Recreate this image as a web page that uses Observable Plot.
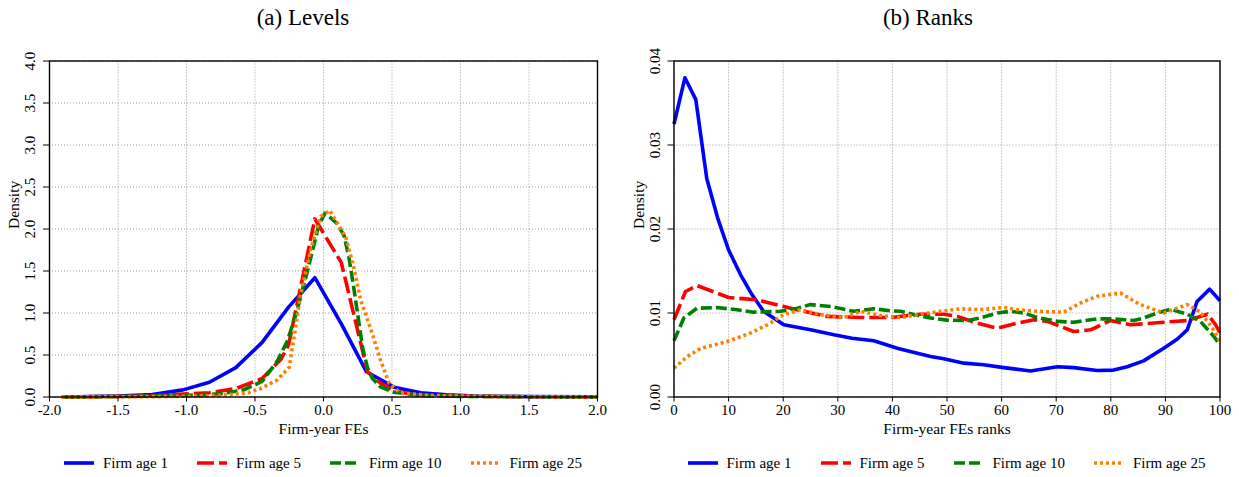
<!DOCTYPE html>
<html><head><meta charset="utf-8">
<script src="https://cdn.jsdelivr.net/npm/d3@7"></script>
<script src="https://cdn.jsdelivr.net/npm/@observablehq/plot@0.6"></script>
<style>
body{margin:0;background:#fff;font-family:"Liberation Serif","DejaVu Serif","Times New Roman",Times,serif;}
#wrap{position:relative;width:1239px;height:477px;overflow:hidden;background:#fff;}
.title{position:absolute;top:4px;font-size:23px;line-height:28px;transform:translateX(-50%);white-space:nowrap;color:#000;}
.panel{position:absolute;top:30px;}
.legend{position:absolute;top:453px;display:flex;align-items:center;gap:29px;font-size:15px;line-height:20px;transform:translateX(-50%);white-space:nowrap;color:#000;}
.item{display:flex;align-items:center;gap:9px;}
.item svg{display:block;}
svg text{font-family:"Liberation Serif","DejaVu Serif","Times New Roman",Times,serif;}
</style></head>
<body><div id="wrap"></div>
<script>
// ---- series metadata ----
const seriesNames = ["Firm age 1", "Firm age 5", "Firm age 10", "Firm age 25"];
const seriesColors = ["#0000ff", "#ff0000", "#008000", "#ff8000"];
const seriesDash = [null, "17,5", "11,4", "3,3"];

// ---- (a) Levels ----
const lvlX1 = [-1.91, -1.5, -1.25, -1.025, -0.833, -0.64, -0.448, -0.255, -0.063, 0.13, 0.314, 0.515, 0.71, 0.9, 1.1, 1.5, 2.0];
const lvlY1 = [0.0, 0.01, 0.03, 0.085, 0.175, 0.35, 0.65, 1.07, 1.42, 0.87, 0.3, 0.117, 0.05, 0.025, 0.012, 0.004, 0.001];
const lvlX5 = [-1.91, -1.3, -1.025, -0.833, -0.64, -0.448, -0.31, -0.255, -0.063, 0.13, 0.322, 0.42, 0.515, 0.707, 1.0, 1.5, 2.0];
const lvlY5 = [0.0, 0.01, 0.035, 0.05, 0.1, 0.22, 0.45, 0.62, 2.12, 1.60, 0.3, 0.16, 0.07, 0.02, 0.01, 0.003, 0.0];
const lvlX10 = [-1.91, -1.3, -1.0, -0.75, -0.58, -0.445, -0.336, -0.263, -0.2, -0.117, -0.032, 0.012, 0.102, 0.15, 0.186, 0.22, 0.26, 0.285, 0.32, 0.357, 0.418, 0.515, 0.7, 1.0, 1.5, 2.0];
const lvlY10 = [0.0, 0.01, 0.02, 0.038, 0.085, 0.19, 0.43, 0.67, 0.99, 1.5, 2.06, 2.19, 2.06, 1.92, 1.66, 1.31, 0.87, 0.59, 0.355, 0.22, 0.117, 0.057, 0.02, 0.008, 0.003, 0.0];
const lvlX25 = [-1.91, -1.2, -0.95, -0.75, -0.55, -0.46, -0.34, -0.25, -0.215, -0.166, -0.093, -0.02, 0.046, 0.163, 0.22, 0.272, 0.357, 0.418, 0.48, 0.56, 0.75, 1.0, 1.5, 2.0];
const lvlY25 = [0.0, 0.005, 0.01, 0.02, 0.05, 0.1, 0.2, 0.355, 0.71, 1.23, 1.76, 2.15, 2.22, 1.9, 1.55, 1.15, 0.75, 0.43, 0.16, 0.05, 0.02, 0.01, 0.003, 0.0];
const lvlXTicks = [-2, -1.5, -1, -0.5, 0, 0.5, 1, 1.5, 2];
const lvlYTicks = [0, 0.5, 1, 1.5, 2, 2.5, 3, 3.5, 4];

// ---- (b) Ranks ----
const rnkX1 = [0, 2, 4, 6, 8, 10, 12.2, 14.3, 16.4, 20.1, 25, 29.3, 32.6, 36.6, 40.9, 42.7, 47, 49.4, 53.1, 56.7, 60.4, 65.3, 70.2, 73.2, 77.5, 80.5, 83, 86, 89.7, 92.2, 94, 95.8, 98.1, 100];
const rnkY1 = [0.0325, 0.0380, 0.0354, 0.0260, 0.0213, 0.0175, 0.01455, 0.01217, 0.0102, 0.0086, 0.0080, 0.0074, 0.0070, 0.00669, 0.00581, 0.0055, 0.00482, 0.00455, 0.00403, 0.00383, 0.0035, 0.0031, 0.0036, 0.0035, 0.00315, 0.0032, 0.0036, 0.0043, 0.0058, 0.0069, 0.0080, 0.01137, 0.01284, 0.01145];
const rnkX5 = [0, 2.1, 4.2, 10, 15.2, 20.1, 23.8, 28, 34.2, 39.7, 45.1, 49.4, 51.9, 55.5, 59.2, 62.9, 65.9, 68.4, 70.8, 73.2, 76.3, 79.9, 83.6, 89.7, 94, 97.7, 99.2, 100];
const rnkY5 = [0.0092, 0.01256, 0.01327, 0.01185, 0.01157, 0.01077, 0.0102, 0.0096, 0.00946, 0.00946, 0.00986, 0.00986, 0.0096, 0.0088, 0.0082, 0.0088, 0.0092, 0.0090, 0.0084, 0.0078, 0.0080, 0.0091, 0.0086, 0.0089, 0.0091, 0.00986, 0.0086, 0.0076];
const rnkX10 = [0, 1.8, 4.2, 7.9, 11.6, 14.6, 19.5, 22.6, 25, 28.7, 32.9, 36.6, 39.7, 41.5, 46.4, 50, 53.7, 56.1, 59.2, 61.6, 64.1, 66.5, 70.2, 73.2, 77.5, 80.5, 84.2, 86, 88.5, 90.9, 94, 96.4, 98.9, 100];
const rnkY10 = [0.0067, 0.0094, 0.01057, 0.01065, 0.01038, 0.0101, 0.0102, 0.01057, 0.0110, 0.01077, 0.0102, 0.0105, 0.01026, 0.0102, 0.00946, 0.00915, 0.0091, 0.0094, 0.0100, 0.0102, 0.0100, 0.00946, 0.0090, 0.0089, 0.0093, 0.0093, 0.0091, 0.0094, 0.0100, 0.01045, 0.00986, 0.0090, 0.0072, 0.0062];
const rnkX25 = [0, 2.4, 4.9, 9.7, 14, 17.1, 20.1, 23.2, 26.8, 31.1, 34.2, 37.8, 41.5, 45.1, 48.8, 52.5, 56.1, 60.4, 62.9, 66.5, 71.4, 74.5, 77.5, 81.8, 85.4, 89.7, 94, 96.4, 98.6, 100];
const rnkY25 = [0.00343, 0.0048, 0.0058, 0.0066, 0.0076, 0.0086, 0.0098, 0.0104, 0.0098, 0.00946, 0.0102, 0.0097, 0.00946, 0.00986, 0.0102, 0.0105, 0.0104, 0.01065, 0.0104, 0.0102, 0.0101, 0.0112, 0.0120, 0.01236, 0.0110, 0.0100, 0.0110, 0.0101, 0.0082, 0.0066];
const rnkXTicks = [0, 10, 20, 30, 40, 50, 60, 70, 80, 90, 100];
const rnkYTicks = [0, 0.01, 0.02, 0.03, 0.04];

const FONT = "Liberation Serif, DejaVu Serif, Times New Roman, serif";
const zip = (xs, ys) => xs.map((x, i) => ({x, y: ys[i]}));

function panel({series, xDomain, yDomain, xTicks, yTicks, xFmt, yFmt, xLabel, width, ml, mr}) {
  const grid = {stroke: "#9a9a9a", strokeOpacity: 1, strokeWidth: 1, strokeDasharray: "1,2"};
  const marks = [
    Plot.gridX(xTicks, grid),
    Plot.gridY(yTicks, grid)
  ];
  series.forEach((s, i) => {
    marks.push(Plot.line(s, {x: "x", y: "y", stroke: seriesColors[i], strokeWidth: 3.6,
      strokeDasharray: seriesDash[i] || undefined, strokeLinecap: "butt", strokeLinejoin: "round"}));
  });
  marks.push(Plot.frame({stroke: "#000", strokeWidth: 1.4}));
  marks.push(Plot.axisX(xTicks, {tickSize: 5, tickPadding: 2, tickFormat: xFmt, fontSize: 15, label: null, stroke: "#000", fontFamily: FONT}));
  marks.push(Plot.axisY(yTicks, {tickSize: 6, tickFormat: () => "", label: null, stroke: "#000"}));
  marks.push(Plot.text(yTicks, {y: d => d, frameAnchor: "left", rotate: -90, dx: -19, text: yFmt,
    fontSize: 15, lineAnchor: "middle", textAnchor: "middle", fill: "#000", fontFamily: FONT}));
  marks.push(Plot.text([xLabel], {frameAnchor: "bottom", dy: 32, text: d => d, fontSize: 15.5, lineAnchor: "middle", fill: "#000", fontFamily: FONT}));
  marks.push(Plot.text(["Density"], {frameAnchor: "left", rotate: -90, dx: -35, text: d => d, fontSize: 15.5, lineAnchor: "middle", fill: "#000", fontFamily: FONT}));
  return Plot.plot({
    width, height: 410, marginTop: 30.5, marginBottom: 43.5, marginLeft: ml, marginRight: mr,
    x: {domain: xDomain}, y: {domain: yDomain},
    style: {fontFamily: FONT, fontSize: "15px", background: "transparent", overflow: "visible", color: "#000"},
    marks
  });
}

function legend(centerX) {
  const div = document.createElement("div");
  div.className = "legend";
  div.style.left = centerX + "px";
  seriesNames.forEach((name, i) => {
    const item = document.createElement("div");
    item.className = "item";
    const ns = "http://www.w3.org/2000/svg";
    const svg = document.createElementNS(ns, "svg");
    svg.setAttribute("width", 30); svg.setAttribute("height", 8);
    const ln = document.createElementNS(ns, "line");
    ln.setAttribute("x1", 0); ln.setAttribute("x2", 30); ln.setAttribute("y1", 4); ln.setAttribute("y2", 4);
    ln.setAttribute("stroke", seriesColors[i]); ln.setAttribute("stroke-width", 3.6);
    if (seriesDash[i]) ln.setAttribute("stroke-dasharray", seriesDash[i]);
    svg.appendChild(ln);
    const t = document.createElement("span");
    t.textContent = name;
    item.appendChild(svg); item.appendChild(t);
    div.appendChild(item);
  });
  return div;
}

const wrap = document.getElementById("wrap");

function addTitle(text, cx) {
  const d = document.createElement("div");
  d.className = "title"; d.textContent = text; d.style.left = cx + "px";
  wrap.appendChild(d);
}

// Left panel
const leftW = 620, leftML = 49, leftMR = 23;
const left = panel({
  series: [zip(lvlX1, lvlY1), zip(lvlX5, lvlY5), zip(lvlX10, lvlY10), zip(lvlX25, lvlY25)],
  xDomain: [-2, 2], yDomain: [0, 4], xTicks: lvlXTicks, yTicks: lvlYTicks,
  xFmt: d => d.toFixed(1), yFmt: d => d.toFixed(1), xLabel: "Firm-year FEs",
  width: leftW, ml: leftML, mr: leftMR
});
left.classList.add("panel");
left.style.left = "0px";
wrap.appendChild(left);

// Right panel
const rightW = 619, rightML = 53.5, rightMR = 19.5;
const right = panel({
  series: [zip(rnkX1, rnkY1), zip(rnkX5, rnkY5), zip(rnkX10, rnkY10), zip(rnkX25, rnkY25)],
  xDomain: [0, 100], yDomain: [0, 0.04], xTicks: rnkXTicks, yTicks: rnkYTicks,
  xFmt: d => String(d), yFmt: d => d.toFixed(2), xLabel: "Firm-year FEs ranks",
  width: rightW, ml: rightML, mr: rightMR
});
right.classList.add("panel");
right.style.left = "620px";
wrap.appendChild(right);

addTitle("(a) Levels", 303);
addTitle("(b) Ranks", 928);
wrap.appendChild(legend(leftML + (leftW - leftML - leftMR) / 2));
wrap.appendChild(legend(620 + rightML + (rightW - rightML - rightMR) / 2));
</script>
</body></html>
